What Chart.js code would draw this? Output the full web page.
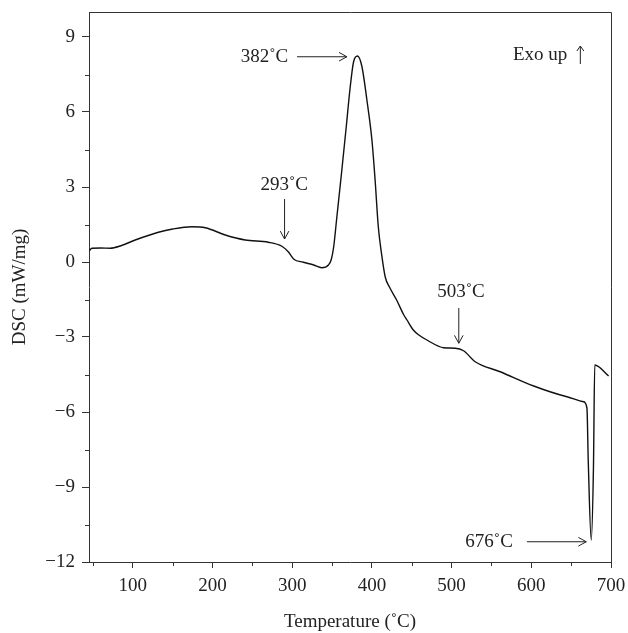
<!DOCTYPE html>
<html>
<head>
<meta charset="utf-8">
<script src="https://cdn.jsdelivr.net/npm/chart.js@4"></script>
<style>
  body { margin: 0; background: #fff; }
</style>
</head>
<body>
<canvas id="myChart" width="628" height="633"></canvas>
<script>
// DSC curve: temperature (°C) and heat flow (mW/mg)
const temps = [45.3, 48.7, 60, 71.6, 85, 103, 132, 150, 174, 191, 216, 241, 270, 287, 295, 302, 314, 327, 337, 345.5,
  349, 352, 356, 362, 367.8, 372.8, 377, 382, 387.5, 393.7, 400, 404, 408, 412, 416.7, 422, 431, 439.7, 444, 452,
  458, 469, 490, 504.5, 515, 529.6, 561, 603, 644.7, 665.5, 669.8, 671.5, 675.2, 678, 679.6, 697];
const dsc = [0.45, 0.55, 0.56, 0.55, 0.65, 0.88, 1.19, 1.32, 1.41, 1.37, 1.08, 0.88, 0.79, 0.63, 0.41, 0.11, -0.01, -0.12, -0.23, -0.12,
  0.1, 0.6, 1.8, 3.6, 5.41, 7.01, 8.01, 8.24, 7.81, 6.48, 4.88, 3.28, 1.41, 0.35, -0.6, -1.0, -1.52, -2.1, -2.32, -2.72,
  -2.9, -3.12, -3.43, -3.45, -3.55, -3.99, -4.39, -4.96, -5.39, -5.59, -5.84, -8.0, -11.12, -8.19, -4.12, -4.56];

const xTicks = [100, 200, 300, 400, 500, 600, 700];
const xMinor = [50, 150, 250, 350, 450, 550, 650];
const yTicks = [-12, -9, -6, -3, 0, 3, 6, 9];
const yMinor = [-10.5, -7.5, -4.5, -1.5, 1.5, 4.5, 7.5];

// annotation texts with the point they sit at (data units)
const labels = [
  { text: '382˚C', x: 295, y: 8.2, align: 'right' },
  { text: '293˚C', x: 290, y: 3.08, align: 'center' },
  { text: '503˚C', x: 511.8, y: -1.19, align: 'center' },
  { text: '676˚C', x: 547, y: -11.19, align: 'center' }
];
const arrows = [
  [306, 8.21, 368.6, 8.21],
  [290.4, 2.52, 290.4, 0.92],
  [509, -1.84, 509, -3.25],
  [594.5, -11.19, 669, -11.19]
];

const serif = "'Liberation Serif', 'DejaVu Serif', serif";
const ink = '#222';

const decor = {
  id: 'decor',
  afterDraw(chart) {
    const c = chart.ctx, a = chart.chartArea;
    const xs = chart.scales.x, ys = chart.scales.y;
    c.save();
    c.strokeStyle = '#333';
    c.lineWidth = 1;
    // top and right frame
    c.beginPath();
    c.moveTo(a.left, a.top + 0.5);
    c.lineTo(a.right + 0.5, a.top + 0.5);
    c.lineTo(a.right + 0.5, a.bottom);
    c.stroke();
    // minor ticks
    c.beginPath();
    xMinor.forEach(v => {
      const px = Math.round(xs.getPixelForValue(v)) + 0.5;
      c.moveTo(px, a.bottom); c.lineTo(px, a.bottom + 4);
    });
    yMinor.forEach(v => {
      const py = Math.round(ys.getPixelForValue(v)) + 0.5;
      c.moveTo(a.left, py); c.lineTo(a.left - 4, py);
    });
    c.stroke();

    // arrows
    c.strokeStyle = ink;
    arrows.forEach(r => {
      const x1 = xs.getPixelForValue(r[0]), y1 = ys.getPixelForValue(r[1]);
      const x2 = xs.getPixelForValue(r[2]), y2 = ys.getPixelForValue(r[3]);
      const ang = Math.atan2(y2 - y1, x2 - x1);
      c.beginPath();
      c.moveTo(x1, y1); c.lineTo(x2, y2);
      c.moveTo(x2 - 9 * Math.cos(ang - 0.5), y2 - 9 * Math.sin(ang - 0.5));
      c.lineTo(x2, y2);
      c.lineTo(x2 - 9 * Math.cos(ang + 0.5), y2 - 9 * Math.sin(ang + 0.5));
      c.stroke();
    });

    // texts
    c.fillStyle = ink;
    c.font = '19px ' + serif;
    c.textBaseline = 'middle';
    labels.forEach(l => {
      c.textAlign = l.align;
      c.fillText(l.text, xs.getPixelForValue(l.x), ys.getPixelForValue(l.y));
    });
    // "Exo up" with a taller arrow
    c.textAlign = 'left';
    const ex = xs.getPixelForValue(577), ey = ys.getPixelForValue(8.28);
    c.fillText('Exo up', ex, ey);
    const ax = ex + c.measureText('Exo up').width + 13;
    c.beginPath();
    c.moveTo(ax, ey + 9); c.lineTo(ax, ey - 9);
    c.moveTo(ax - 3.5, ey - 4); c.lineTo(ax, ey - 9); c.lineTo(ax + 3.5, ey - 4);
    c.stroke();
    c.restore();
  }
};

const ctx = document.getElementById('myChart').getContext('2d');
const myChart = new Chart(ctx, {
  type: 'line',
  data: {
    datasets: [{
      data: temps.map((t, i) => ({ x: t, y: dsc[i] })),
      borderColor: '#111',
      borderWidth: 1.4,
      pointRadius: 0,
      cubicInterpolationMode: 'monotone',
      fill: false
    }]
  },
  options: {
    responsive: false,
    animation: false,
    layout: { padding: { top: 12, right: 17, left: 0, bottom: 0 } },
    plugins: {
      legend: { display: false },
      tooltip: { enabled: false }
    },
    scales: {
      x: {
        type: 'linear',
        min: 45,
        max: 700,
        afterBuildTicks: s => { s.ticks = xTicks.map(v => ({ value: v })); },
        afterFit: s => { s.height = 71; s.paddingLeft = 0; s.paddingRight = 0; },
        grid: { drawOnChartArea: false, drawTicks: true, tickLength: 6, color: '#333' },
        border: { display: true, color: '#333', width: 1 },
        ticks: { color: ink, font: { family: serif, size: 19 }, padding: 7, maxRotation: 0 },
        title: { display: true, text: 'Temperature (˚C)', color: ink, font: { family: serif, size: 19 }, padding: { top: 4, bottom: 0 } }
      },
      y: {
        min: -12,
        max: 10,
        afterBuildTicks: s => { s.ticks = yTicks.map(v => ({ value: v })); },
        afterFit: s => { s.width = 89; s.paddingTop = 0; s.paddingBottom = 0; },
        grid: { drawOnChartArea: false, drawTicks: true, tickLength: 7, color: '#333' },
        border: { display: true, color: '#333', width: 1 },
        ticks: {
          color: ink, font: { family: serif, size: 19 }, padding: 7,
          callback: v => (v < 0 ? '\u2212' + Math.abs(v) : '' + v)
        },
        title: { display: true, text: 'DSC (mW/mg)', color: ink, font: { family: serif, size: 19 }, padding: { top: 9, bottom: 4 } }
      }
    }
  },
  plugins: [decor]
});
</script>
</body>
</html>
